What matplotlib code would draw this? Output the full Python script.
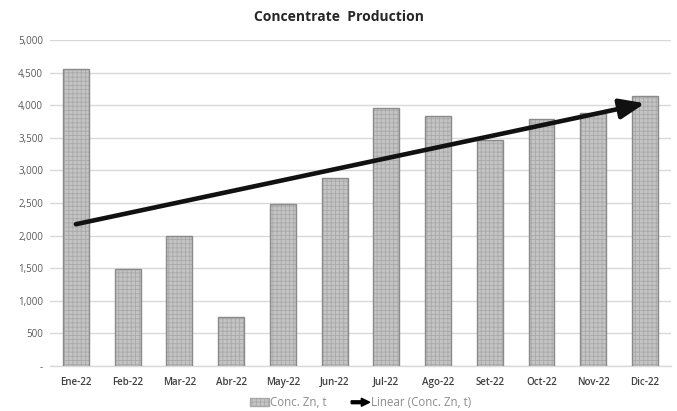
import numpy as np
import matplotlib
matplotlib.use("Agg")
import matplotlib.pyplot as plt
import matplotlib.patches as mpatches
from matplotlib.legend_handler import HandlerPatch
from matplotlib.ticker import FuncFormatter

months = ["Ene-22", "Feb-22", "Mar-22", "Abr-22", "May-22", "Jun-22",
          "Jul-22", "Ago-22", "Set-22", "Oct-22", "Nov-22", "Dic-22"]
conc_zn_t = [4560, 1490, 1990, 750, 2480, 2890, 3955, 3837, 3468, 3791, 3878, 4149]
y_ticks = [0, 500, 1000, 1500, 2000, 2500, 3000, 3500, 4000, 4500, 5000]

plt.rcParams["font.family"] = ["Open Sans", "DejaVu Sans"]
plt.rcParams["hatch.linewidth"] = 0.6

BAR_FACE = "#c4c4c4"
BAR_HATCH = "#a9a9a9"
BAR_EDGE = "#8a8a8a"
GRID = "#d9d9d9"

fig = plt.figure(figsize=(6.77, 4.11), dpi=100)
ax = fig.add_axes([0.0739, 0.1102, 0.917, 0.7917])

x = np.arange(len(months))
# patterned fill, then outline on top
ax.bar(x, conc_zn_t, width=0.5, color=BAR_FACE, edgecolor=BAR_HATCH,
       hatch="++++", linewidth=0, zorder=2)
ax.bar(x, conc_zn_t, width=0.5, fill=False, edgecolor=BAR_EDGE,
       linewidth=1.0, zorder=3)

# linear trend of the monthly production
slope, intercept = np.polyfit(x, conc_zn_t, 1)
y0 = intercept
y1 = intercept + slope * x[-1]
ax.annotate("", xy=(x[-1], y1), xytext=(x[0], y0),
            arrowprops=dict(arrowstyle="-|>,head_length=1.5,head_width=0.6",
                            color="#111111", lw=3.3, shrinkA=0, shrinkB=0),
            zorder=5)

ax.set_xlim(-0.5, len(months) - 0.5)
ax.set_ylim(0, 5000)
ax.set_yticks(y_ticks)
ax.yaxis.set_major_formatter(FuncFormatter(lambda v, p: "-" if v == 0 else f"{int(v):,}"))
ax.set_xticks(x)
ax.set_xticklabels(months, fontsize=7, color="#404040", fontweight="semibold")
ax.tick_params(axis="y", labelsize=7, labelcolor="#595959", length=0, pad=5)
ax.tick_params(axis="x", length=0, pad=8)
ax.grid(axis="y", color=GRID, linewidth=1.0, zorder=0)
ax.set_axisbelow(True)
for s in ["top", "right", "left"]:
    ax.spines[s].set_visible(False)
ax.spines["bottom"].set_color(GRID)
ax.spines["bottom"].set_linewidth(1.0)

fig.text(0.5, 0.958, "Concentrate  Production", ha="center", va="center",
         fontsize=10, fontweight="bold", color="#262626")


class HandlerArrow(HandlerPatch):
    def create_artists(self, legend, orig_handle, xdescent, ydescent,
                       width, height, fontsize, trans):
        arr = mpatches.FancyArrow(-xdescent, height / 2 - ydescent, width, 0,
                                  width=height * 0.35, head_width=height * 1.0,
                                  head_length=width * 0.45,
                                  length_includes_head=True, color="black")
        arr.set_transform(trans)
        return [arr]


bar_handle = mpatches.Patch(facecolor=BAR_FACE, edgecolor=BAR_HATCH, hatch="++++")
arrow_handle = mpatches.FancyArrow(0, 0, 1, 0, color="black")
leg = fig.legend([bar_handle, arrow_handle], ["Conc. Zn, t", "Linear (Conc. Zn, t)"],
                 loc="center", bbox_to_anchor=(0.533, 0.02), ncol=2, frameon=False,
                 fontsize=8.3, handlelength=1.6, handleheight=0.7, handletextpad=0.15,
                 columnspacing=2.1,
                 handler_map={mpatches.FancyArrow: HandlerArrow()})
for t in leg.get_texts():
    t.set_color("#8c8c8c")

fig.savefig("out.png", dpi=100)
